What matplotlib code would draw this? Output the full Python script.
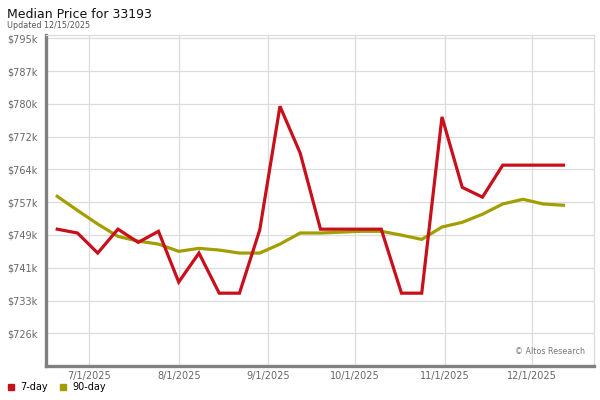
import matplotlib
matplotlib.use("Agg")
import matplotlib.pyplot as plt
import matplotlib.dates as mdates
from matplotlib.lines import Line2D
import numpy as np
from datetime import datetime, timedelta

# weekly points, Fridays from 6/20/2025
start = datetime(2025, 6, 20)
n_weeks = 26
dates = [start + timedelta(days=7 * i) for i in range(n_weeks)]

# values in $k
day7 = [750.3, 749.4, 744.7, 750.3, 747.2, 749.8, 737.9, 744.7, 735.3, 735.3,
        750.1, 779.1, 768.1, 750.3, 750.3, 750.3, 750.3, 735.3, 735.3, 776.6,
        760.1, 757.8, 765.3, 765.3, 765.3, 765.3]
day90 = [758.0, 754.7, 751.5, 748.6, 747.5, 746.8, 745.1, 745.8, 745.4, 744.7,
         744.7, 746.8, 749.4, 749.4, 749.6, 749.8, 749.8, 748.9, 747.9, 750.8,
         751.9, 753.8, 756.2, 757.3, 756.2, 755.9]

ytick_labels = ["$726k", "$733k", "$741k", "$749k", "$757k",
                "$764k", "$772k", "$780k", "$787k", "$795k"]
xtick_dates = [datetime(2025, m, 1) for m in (7, 8, 9, 10, 11, 12)]

RED = "#c8101c"
OLIVE = "#a39e00"
GRID = "#dcdcdc"

fig = plt.figure(figsize=(6, 4), dpi=100)
ax = fig.add_axes([46 / 600, 1 - 365.5 / 400, (593.5 - 46) / 600, (365.5 - 35) / 400])

ax.plot(dates, day90, color=OLIVE, lw=2.3, solid_joinstyle="miter", zorder=3)
ax.plot(dates, day7, color=RED, lw=2.3, solid_joinstyle="miter", zorder=4)

ax.set_xlim(datetime(2025, 6, 16, 3), datetime(2025, 12, 22, 9))
ax.set_ylim(718.35, 795.8)

ax.set_yticks(np.linspace(725.9, 795.0, len(ytick_labels)))
ax.set_yticklabels(ytick_labels)
ax.set_xticks(xtick_dates)
ax.xaxis.set_major_formatter(mdates.DateFormatter("%-m/%-d/%Y"))

ax.grid(True, color=GRID, lw=0.9)
ax.set_axisbelow(True)
ax.tick_params(length=0, labelsize=7, labelcolor="#666666")
ax.tick_params(axis="y", pad=6)
ax.tick_params(axis="x", pad=4)

for side in ("left", "bottom"):
    ax.spines[side].set_color("#808080")
    ax.spines[side].set_linewidth(2.4)
for side in ("top", "right"):
    ax.spines[side].set_color(GRID)
    ax.spines[side].set_linewidth(0.9)

ax.text(0.985, 0.03, "\u00a9 Altos Research", transform=ax.transAxes,
        ha="right", va="bottom", fontsize=5.8, color="#777777")

fig.text(7 / 600, 1 - 18 / 400, "Median Price for 33193", fontsize=9,
         color="#111111", va="baseline")
fig.text(7 / 600, 1 - 28 / 400, "Updated 12/15/2025", fontsize=5.8,
         color="#555555", va="baseline")

handles = [Line2D([], [], marker="s", color=RED, ls="none", markersize=4.5),
           Line2D([], [], marker="s", color=OLIVE, ls="none", markersize=4.5)]
fig.legend(handles, ["7-day", "90-day"], loc="lower left",
           bbox_to_anchor=(0.0, 0.005), ncol=2, frameon=False, fontsize=7,
           handlelength=1.0, handletextpad=0.5, columnspacing=1.0,
           borderaxespad=0.2)

fig.savefig("out.png", dpi=100)
